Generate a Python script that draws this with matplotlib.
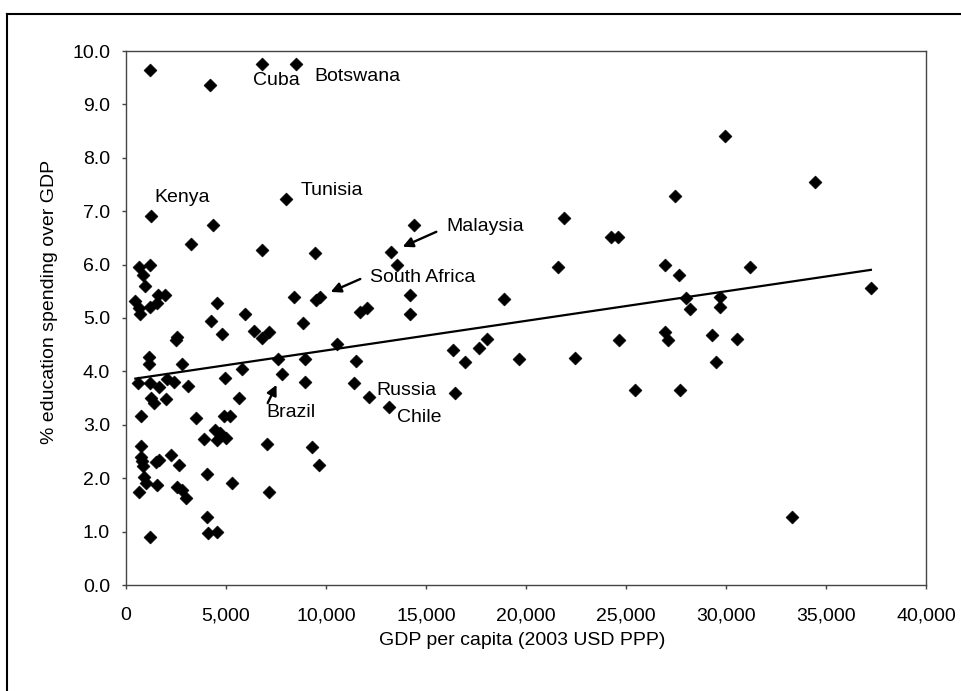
import numpy as np
import matplotlib
matplotlib.use("Agg")
import matplotlib.pyplot as plt
from matplotlib.lines import Line2D
from matplotlib.ticker import FuncFormatter, MultipleLocator

plt.rcParams["font.family"] = ["Liberation Sans", "DejaVu Sans"]
plt.rcParams["font.size"] = 14

# GDP per capita (2003 USD PPP)
gdp = [
    1190, 4195, 6817, 8520, 1238, 4360, 8005, 3225, 6783, 9458,
    636, 1188, 852, 969, 466, 650, 686, 1188, 1571, 1604,
    1938, 4527, 4244, 4812, 5949, 6416, 6783, 7150, 8404, 8838,
    9500, 9700, 2490, 2570, 1153, 1153, 2823, 7619, 8955, 7786,
    8955, 5815, 4945, 602, 1220, 1638, 2072, 2406, 3108, 1270,
    1404, 1989, 5648, 736, 3493, 4912, 5197, 4445, 4695, 3910,
    4527, 4977, 7033, 9290, 736, 736, 852, 800, 1488, 1638,
    2239, 2640, 902, 1018, 1571, 636, 2573, 2807, 3024, 4060,
    5279, 7150, 4027, 4110, 4527, 1220, 14386, 13268, 13550, 11713,
    12046, 14219, 14219, 18897, 10541, 16341, 17644, 18060, 11480, 16927,
    19649, 11378, 12130, 13133, 16441, 9674, 29925, 27469, 21905, 24244,
    24578, 21619, 26967, 27669, 31213, 28004, 28205, 29709, 29709, 22456,
    24627, 26967, 27083, 29308, 30541, 29509, 25464, 27719, 34471, 37243,
    33300,
]

# % education spending over GDP
edu = [
    9.65, 9.37, 9.75, 9.75, 6.91, 6.74, 7.23, 6.39, 6.27, 6.21,
    5.96, 5.99, 5.81, 5.60, 5.31, 5.19, 5.08, 5.21, 5.28, 5.43,
    5.43, 5.29, 4.94, 4.70, 5.08, 4.76, 4.63, 4.73, 5.40, 4.90,
    5.33, 5.40, 4.59, 4.65, 4.27, 4.14, 4.14, 4.23, 4.23, 3.95,
    3.80, 4.04, 3.87, 3.78, 3.78, 3.70, 3.85, 3.81, 3.73, 3.50,
    3.41, 3.49, 3.50, 3.17, 3.12, 3.17, 3.17, 2.91, 2.84, 2.73,
    2.72, 2.76, 2.64, 2.58, 2.61, 2.39, 2.22, 2.33, 2.31, 2.34,
    2.44, 2.25, 2.03, 1.91, 1.88, 1.74, 1.83, 1.78, 1.63, 2.08,
    1.91, 1.74, 1.28, 0.97, 1.00, 0.90, 6.74, 6.24, 5.99, 5.12,
    5.18, 5.43, 5.08, 5.36, 4.51, 4.41, 4.43, 4.61, 4.20, 4.17,
    4.24, 3.78, 3.52, 3.34, 3.59, 2.25, 8.41, 7.29, 6.87, 6.52,
    6.52, 5.95, 5.99, 5.81, 5.95, 5.37, 5.16, 5.40, 5.20, 4.26,
    4.58, 4.73, 4.58, 4.68, 4.61, 4.18, 3.65, 3.65, 7.54, 5.56,
    1.28,
]

# labelled countries and the point each one names
countries = ["Cuba", "Botswana", "Kenya", "Tunisia", "Malaysia",
             "South Africa", "Brazil", "Russia", "Chile"]
country_gdp = [6817, 8520, 1238, 8005, 13268, 9700, 7786, 12130, 13133]
country_edu = [9.75, 9.75, 6.91, 7.23, 6.24, 5.40, 3.95, 3.52, 3.34]

# text offsets (points) and arrow tails for the three arrowed labels
text_offset = {
    "Cuba": (-6.5, -11.5), "Botswana": (13, -8.6), "Kenya": (2.4, 13.1),
    "Tunisia": (10.3, 6.1), "Malaysia": (39.8, 18.1),
    "South Africa": (36.2, 13.5), "Brazil": (-11.2, -27.9),
    "Russia": (5.8, 4.9), "Chile": (5.8, -8.1),
}
arrow_tail = {
    "Malaysia": ((32.4, 14.4), 8.9),
    "South Africa": ((29.0, 12.7), 8.4),
    "Brazil": ((-10.1, -20.9), 8.6),
}

fig = plt.figure(figsize=(9.62, 6.91), dpi=100)
ax = fig.add_axes([126 / 962, 1 - 585 / 691, 800 / 962, 534 / 691])

ax.scatter(gdp, edu, marker="D", s=44, color="black", linewidths=0.4,
           edgecolors="black", zorder=3)

# linear trend line over the data range
coef = np.polyfit(gdp, edu, 1)
xs = np.array([min(gdp), max(gdp)])
ax.plot(xs, np.polyval(coef, xs), color="black", lw=1.6, zorder=2)

for name, cx, cy in zip(countries, country_gdp, country_edu):
    dx, dy = text_offset[name]
    ax.annotate(name, (cx, cy), xytext=(dx, dy), textcoords="offset points",
                ha="left", va="center", fontsize=14)
    if name in arrow_tail:
        (tx, ty), gap = arrow_tail[name]
        ax.annotate("", (cx, cy), xytext=(tx, ty), textcoords="offset points",
                    arrowprops=dict(arrowstyle="-|>", color="black", lw=1.7,
                                    mutation_scale=15, shrinkA=0, shrinkB=gap))

ax.set_xlim(0, 40000)
ax.set_ylim(0, 10)
ax.xaxis.set_major_locator(MultipleLocator(5000))
ax.yaxis.set_major_locator(MultipleLocator(1))
ax.xaxis.set_major_formatter(FuncFormatter(lambda v, p: f"{v:,.0f}"))
ax.yaxis.set_major_formatter(FuncFormatter(lambda v, p: f"{v:.1f}"))

for sp in ax.spines.values():
    sp.set_color("#444444")
    sp.set_linewidth(1.0)
ax.tick_params(axis="both", direction="out", length=3, width=1, color="#444444")
ax.tick_params(axis="x", pad=13)
ax.tick_params(axis="y", pad=8.5)

ax.set_xlabel("GDP per capita (2003 USD PPP)", fontsize=14)
ax.set_ylabel("% education spending over GDP", fontsize=14)
ax.xaxis.set_label_coords(0.495, -0.088)
ax.yaxis.set_label_coords(-0.085, 0.53)

# outer frame of the original chart (left and top edges)
fig.add_artist(Line2D([7 / 962, 7 / 962], [0, 1 - 14 / 691], color="black", lw=1.5))
fig.add_artist(Line2D([7 / 962, 1], [1 - 14 / 691, 1 - 14 / 691], color="black", lw=1.5))

fig.savefig("out.png", dpi=100)
